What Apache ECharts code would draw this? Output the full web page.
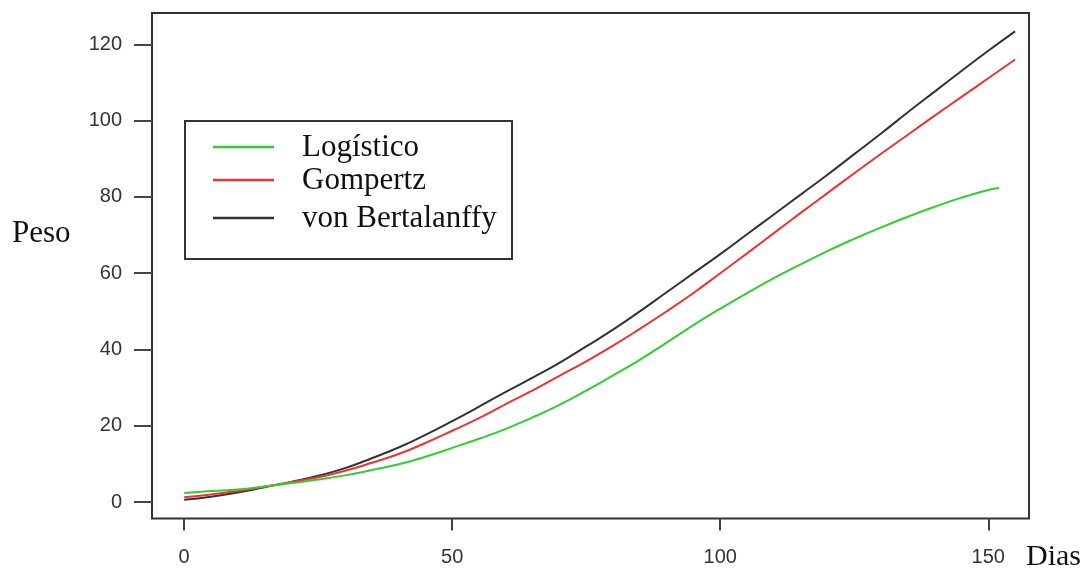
<!DOCTYPE html>
<html>
<head>
<meta charset="utf-8">
<script src="https://cdn.jsdelivr.net/npm/echarts@6/dist/echarts.min.js"></script>
<style>html,body{margin:0;padding:0;background:#fff}#chart{width:1084px;height:569px}</style>
</head>
<body>
<div id="chart"></div>
<script>
const seriesNames = ['Logístico', 'Gompertz', 'von Bertalanffy'];
const seriesColors = ['#33cc33', '#f03232', '#333333'];
const xTicks = [0, 50, 100, 150];
const yTicks = [0, 20, 40, 60, 80, 100, 120];

const daysLong = [0,5,10,15,20,25,30,35,40,45,50,55,60,65,70,75,80,85,90,95,100,105,110,115,120,125,130,135,140,145,150,155];
const daysLogistic = [0,5,10,15,20,25,30,35,40,45,50,55,60,65,70,75,80,85,90,95,100,105,110,115,120,125,130,135,140,145,150,152];

const logistico = [2.4,2.9,3.3,4.1,5.0,5.9,7.0,8.4,9.9,11.9,14.2,16.6,19.2,22.2,25.5,29.2,33.2,37.3,41.8,46.4,50.7,54.8,58.7,62.3,65.8,69.0,72.0,74.8,77.4,79.8,81.8,82.3];
const gompertz = [1.3,2.0,2.9,4.0,5.3,6.5,8.2,10.3,12.6,15.5,18.7,22.0,25.7,29.3,33.1,36.9,41.0,45.4,50.0,54.8,60.0,65.2,70.5,75.8,81.0,86.2,91.3,96.3,101.3,106.2,111.1,116.0];
const bertalanffy = [0.6,1.4,2.5,3.9,5.3,6.9,8.9,11.5,14.3,17.6,21.2,25.0,28.9,32.6,36.5,40.8,45.2,50.0,55.0,60.0,65.0,70.2,75.4,80.6,85.8,91.2,96.6,102.2,107.6,113.0,118.3,123.4];

const pairs = (xs, ys) => xs.map((x, i) => [x, ys[i]]);
const seriesData = [pairs(daysLogistic, logistico), pairs(daysLong, gompertz), pairs(daysLong, bertalanffy)];

const chart = echarts.init(document.getElementById('chart'), null, {renderer: 'canvas'});

const legendRows = [147, 180, 218];
const legendGraphics = [{
  type: 'rect', shape: {x: 185, y: 121, width: 327, height: 138},
  style: {fill: 'none', stroke: '#333', lineWidth: 2}, z: 10
}];
seriesNames.forEach((name, i) => {
  legendGraphics.push({
    type: 'line', shape: {x1: 213, y1: legendRows[i], x2: 274, y2: legendRows[i]},
    style: {stroke: seriesColors[i], lineWidth: 2.5}, z: 10
  });
  legendGraphics.push({
    type: 'text', x: 302, y: legendRows[i] + 1,
    style: {text: name, fontFamily: 'Liberation Serif', fontSize: 31, fill: '#111', verticalAlign: 'middle', align: 'left'}, z: 10
  });
});
legendGraphics.push({
  type: 'text', x: 12, y: 234,
  style: {text: 'Peso', fontFamily: 'Liberation Serif', fontSize: 31, fill: '#111', verticalAlign: 'middle'}
});
legendGraphics.push({
  type: 'text', x: 1026, y: 557,
  style: {text: 'Dias', fontFamily: 'Liberation Serif', fontSize: 30, fill: '#111', verticalAlign: 'middle'}
});

chart.setOption({
  animation: false,
  backgroundColor: '#fff',
  grid: {left: 152, top: 13, width: 877, height: 505.5, show: true, borderColor: '#333', borderWidth: 2, backgroundColor: 'transparent'},
  xAxis: {
    type: 'value', min: -6, max: 157.6,
    axisLine: {show: false, onZero: false},
    splitLine: {show: false},
    axisTick: {show: true, customValues: xTicks, length: 12, lineStyle: {color: '#444', width: 2}},
    axisLabel: {customValues: xTicks, margin: 29, fontSize: 20, fontFamily: 'Liberation Sans', color: '#333'}
  },
  yAxis: {
    type: 'value', min: -4.3, max: 128.2,
    axisLine: {show: false, onZero: false},
    splitLine: {show: false},
    axisTick: {show: true, customValues: yTicks, length: 18, lineStyle: {color: '#444', width: 2}},
    axisLabel: {customValues: yTicks, margin: 30, fontSize: 20, fontFamily: 'Liberation Sans', color: '#333'}
  },
  series: seriesNames.map((name, i) => ({
    name: name, type: 'line', data: seriesData[i], smooth: true, showSymbol: false,
    lineStyle: {color: seriesColors[i], width: 2}, itemStyle: {color: seriesColors[i]}, z: 3 - i
  })),
  graphic: legendGraphics
});
</script>
</body>
</html>
